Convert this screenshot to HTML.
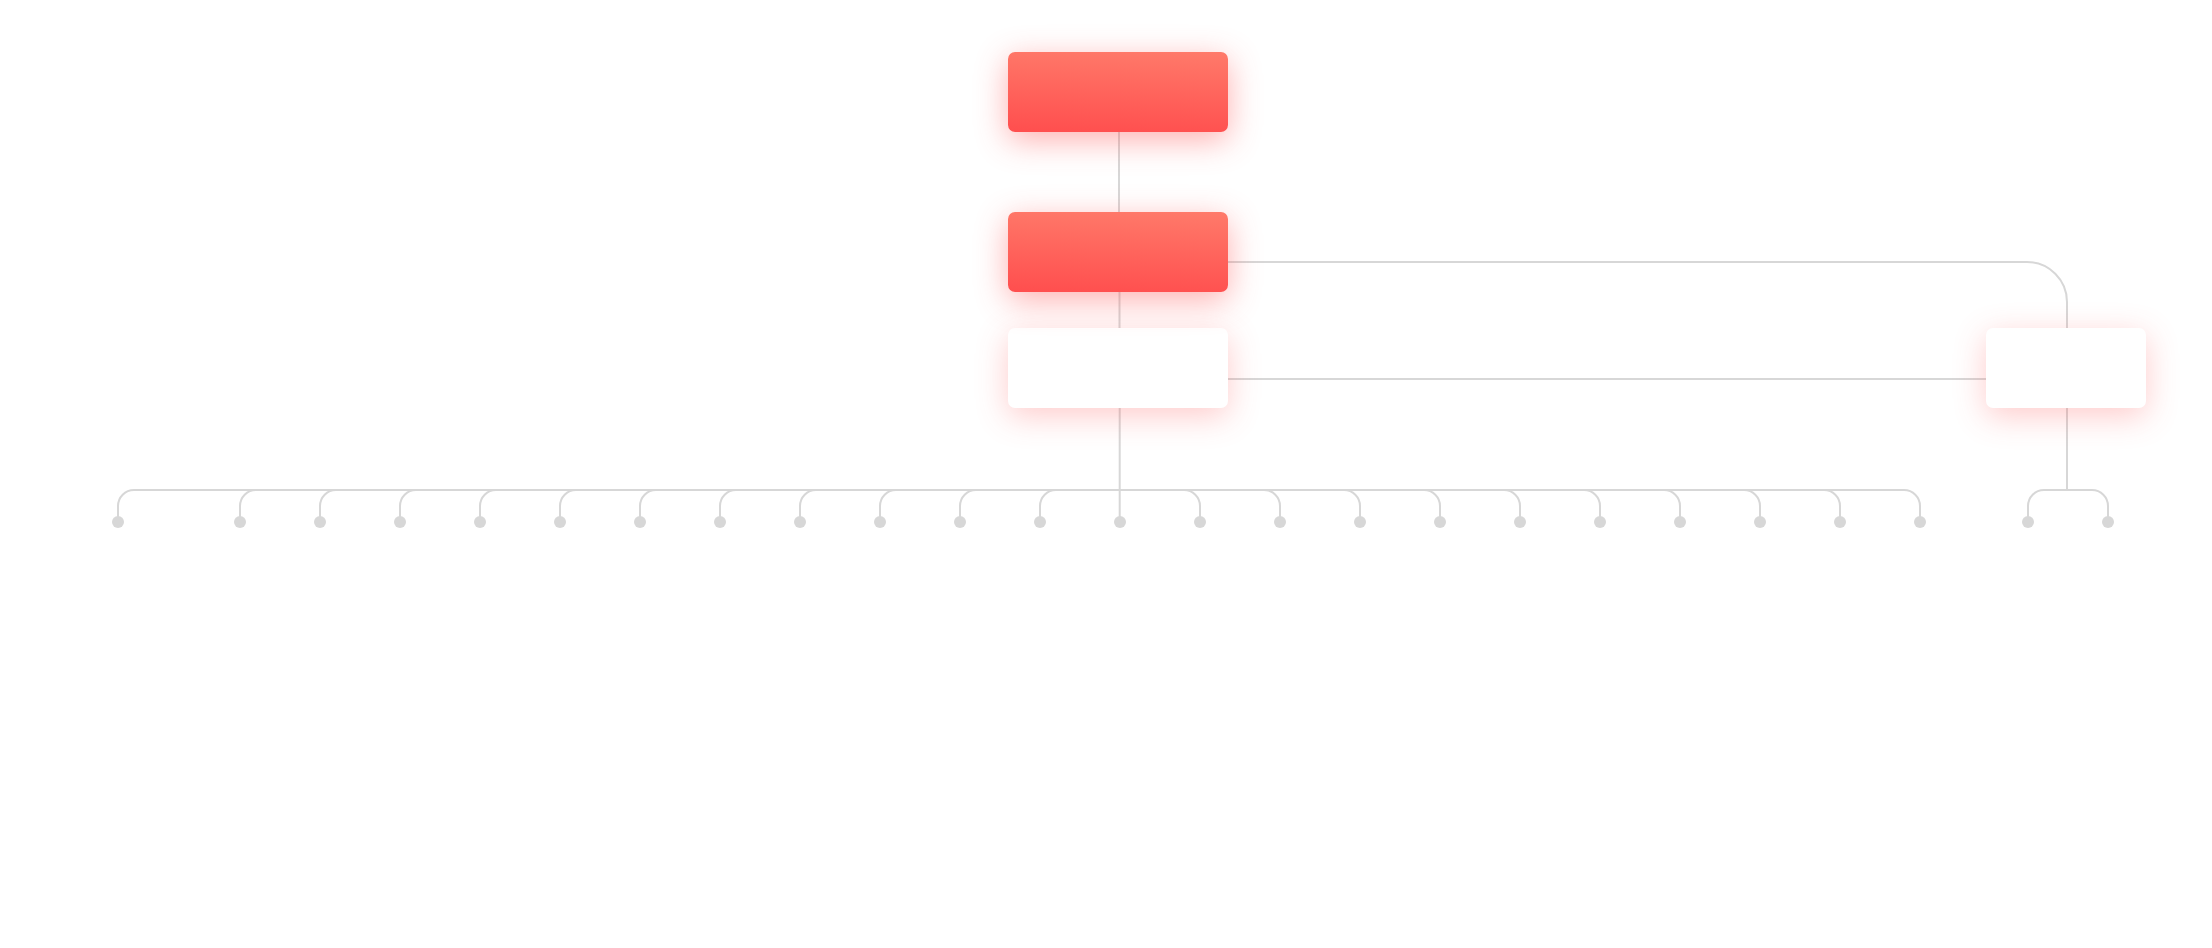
<!DOCTYPE html>
<html lang="en">
<head>
<meta charset="utf-8">
<title>Organization chart</title>
<style>
html,body{margin:0;padding:0;background:#fff;}
body{width:2212px;height:948px;position:relative;overflow:hidden;font-family:"Liberation Sans",sans-serif;}
.node{position:absolute;box-sizing:border-box;border-radius:7px;}
.red{background:linear-gradient(182deg,#ff7a6a 0%,#ff4e4e 100%);box-shadow:0 8px 32px rgba(255,77,77,.45);}
.white{background:#fff;box-shadow:0 8px 32px rgba(255,77,77,.29);}
svg{position:absolute;left:0;top:0;}
</style>
</head>
<body>
<svg width="2212" height="948" viewBox="0 0 2212 948">
<path d="M1119 132V212M1119.5 292V328M1119.7 408V522M118 522V506A16 16 0 0 1 134 490H1904A16 16 0 0 1 1920 506V522M240 522V506A16 16 0 0 1 256 490M320 522V506A16 16 0 0 1 336 490M400 522V506A16 16 0 0 1 416 490M480 522V506A16 16 0 0 1 496 490M560 522V506A16 16 0 0 1 576 490M640 522V506A16 16 0 0 1 656 490M720 522V506A16 16 0 0 1 736 490M800 522V506A16 16 0 0 1 816 490M880 522V506A16 16 0 0 1 896 490M960 522V506A16 16 0 0 1 976 490M1040 522V506A16 16 0 0 1 1056 490M1200 522V506A16 16 0 0 0 1184 490M1280 522V506A16 16 0 0 0 1264 490M1360 522V506A16 16 0 0 0 1344 490M1440 522V506A16 16 0 0 0 1424 490M1520 522V506A16 16 0 0 0 1504 490M1600 522V506A16 16 0 0 0 1584 490M1680 522V506A16 16 0 0 0 1664 490M1760 522V506A16 16 0 0 0 1744 490M1840 522V506A16 16 0 0 0 1824 490M1228 262H2027A40 40 0 0 1 2067 302V328M1228 379H1986M2067 408V490M2028 522V506A16 16 0 0 1 2044 490H2092A16 16 0 0 1 2108 506V522" fill="none" stroke="#d7d7d7" stroke-width="2"/>
<g fill="#d7d7d7"><circle cx="118" cy="522" r="6"/><circle cx="240" cy="522" r="6"/><circle cx="320" cy="522" r="6"/><circle cx="400" cy="522" r="6"/><circle cx="480" cy="522" r="6"/><circle cx="560" cy="522" r="6"/><circle cx="640" cy="522" r="6"/><circle cx="720" cy="522" r="6"/><circle cx="800" cy="522" r="6"/><circle cx="880" cy="522" r="6"/><circle cx="960" cy="522" r="6"/><circle cx="1040" cy="522" r="6"/><circle cx="1120" cy="522" r="6"/><circle cx="1200" cy="522" r="6"/><circle cx="1280" cy="522" r="6"/><circle cx="1360" cy="522" r="6"/><circle cx="1440" cy="522" r="6"/><circle cx="1520" cy="522" r="6"/><circle cx="1600" cy="522" r="6"/><circle cx="1680" cy="522" r="6"/><circle cx="1760" cy="522" r="6"/><circle cx="1840" cy="522" r="6"/><circle cx="1920" cy="522" r="6"/><circle cx="2028" cy="522" r="6"/><circle cx="2108" cy="522" r="6"/></g>
</svg>
<div class="node white" style="left:1008px;top:328px;width:220px;height:80px"></div>
<div class="node white" style="left:1986px;top:328px;width:160px;height:80px"></div>
<div class="node red" style="left:1008px;top:212px;width:220px;height:80px"></div>
<div class="node red" style="left:1008px;top:52px;width:220px;height:80px"></div>
</body>
</html>
